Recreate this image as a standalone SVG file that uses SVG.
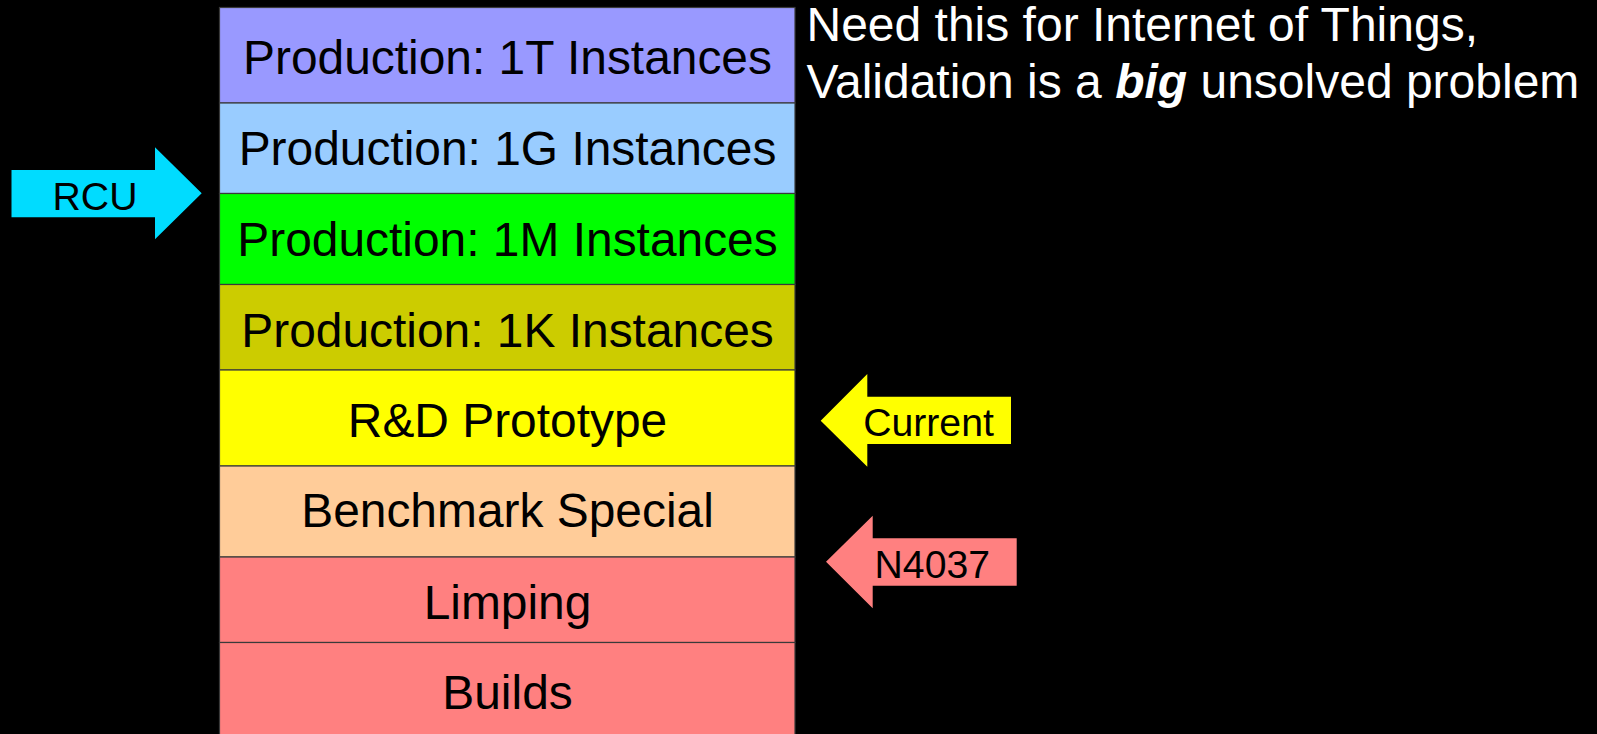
<svg xmlns="http://www.w3.org/2000/svg" width="1597" height="734" viewBox="0 0 1597 734">
<style>
.row{stroke:#3a3a3a;stroke-width:1.2}
.lbl{font-family:"Liberation Sans",Arial,sans-serif;font-size:47.9px;fill:#000;text-anchor:middle}
.note{font-family:"Liberation Sans",Arial,sans-serif;font-size:48px;fill:#fff}
.arr{font-family:"Liberation Sans",Arial,sans-serif;font-size:39.2px;fill:#000;text-anchor:middle}
</style>
<rect x="0" y="0" width="1597" height="734" fill="#000"/>
<g id="n-1t"><rect class="row" x="219.5" y="7.5" width="575.5" height="95.5" fill="#9999ff"/><text class="lbl" x="507.5" y="74">Production: 1T Instances</text></g>
<g id="n-1g"><rect class="row" x="219.5" y="103" width="575.5" height="90.5" fill="#99ccff"/><text class="lbl" x="507.5" y="165">Production: 1G Instances</text></g>
<g id="n-1m"><rect class="row" x="219.5" y="193.5" width="575.5" height="91" fill="#00ff00"/><text class="lbl" x="507.5" y="256">Production: 1M Instances</text></g>
<g id="n-1k"><rect class="row" x="219.5" y="284.5" width="575.5" height="85.5" fill="#cccc00"/><text class="lbl" x="507.5" y="347">Production: 1K Instances</text></g>
<g id="n-rd"><rect class="row" x="219.5" y="370" width="575.5" height="96" fill="#ffff00"/><text class="lbl" x="507.5" y="437">R&amp;D Prototype</text></g>
<g id="n-bench"><rect class="row" x="219.5" y="466" width="575.5" height="91" fill="#ffcc99"/><text class="lbl" x="507.5" y="527">Benchmark Special</text></g>
<g id="n-limp"><rect class="row" x="219.5" y="557" width="575.5" height="85.5" fill="#ff8080"/><text class="lbl" x="507.5" y="619">Limping</text></g>
<g id="n-builds"><rect class="row" x="219.5" y="642.5" width="575.5" height="100" fill="#ff8080"/><text class="lbl" x="507.5" y="709">Builds</text></g>
<g id="n-note"><text class="note" x="806.5" y="40.5">Need this for Internet of Things,</text><text class="note" x="806.5" y="98.3">Validation is a <tspan font-weight="bold" font-style="italic">big</tspan> unsolved problem</text></g>
<g id="connectors">
<g id="a-rcu"><polygon points="11.5,170 155,170 155,147.3 201.7,193.3 155,239.3 155,217.3 11.5,217.3" fill="#00dcff"/><text class="arr" x="95" y="210">RCU</text></g>
<g id="a-current"><polygon points="1011,396.7 867.3,396.7 867.3,374 820.7,420.7 867.3,466.7 867.3,444 1011,444" fill="#ffff00"/><text class="arr" x="928.5" y="436">Current</text></g>
<g id="a-n4037"><polygon points="1016.7,538.3 872.7,538.3 872.7,515.7 826,561.7 872.7,608.3 872.7,585.7 1016.7,585.7" fill="#ff8080"/><text class="arr" x="932.3" y="578.3">N4037</text></g>
</g>
</svg>
